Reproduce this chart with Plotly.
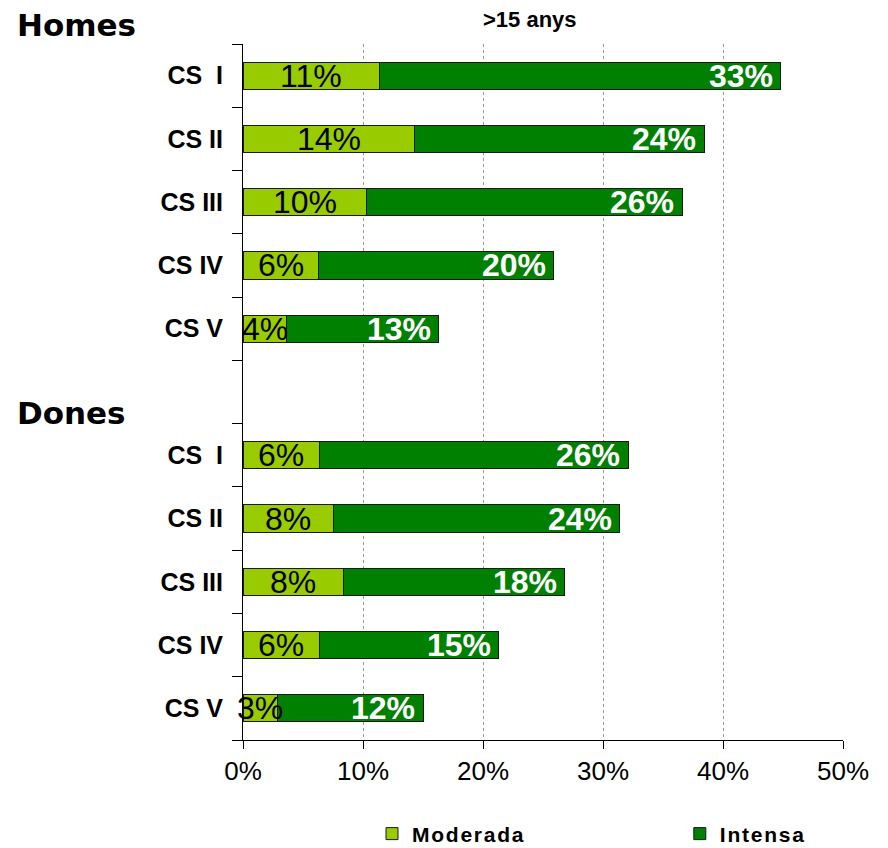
# =========================================
# Activitat física per classe social (>15 anys)
# =========================================

import plotly.graph_objects as go


# =========================================
# Data
# =========================================

homes_cats = ["CS\u00a0\u00a0I", "CS II", "CS III", "CS IV", "CS V"]
dones_cats = [c + "\u200b" for c in homes_cats]
gap_cat = "\u2002"
categories = homes_cats + [gap_cat] + dones_cats

moderada = [11.4, 14.25, 10.3, 6.3, 3.6, 6.4, 7.5, 8.4, 6.4, 2.9]
intensa = [33.4, 24.2, 26.3, 19.6, 12.7, 25.7, 23.9, 18.4, 14.9, 12.1]

moderada_labels = ["11%", "14%", "10%", "6%", "4%", "6%", "8%", "8%", "6%", "3%"]
intensa_labels = ["33%", "24%", "26%", "20%", "13%", "26%", "24%", "18%", "15%", "12%"]

bar_cats = homes_cats + dones_cats

FONT = "Liberation Sans, Arial, sans-serif"


fig = go.Figure()


# =========================================
# Bars
# =========================================

fig.add_trace(
    go.Bar(
        y=bar_cats,
        x=moderada,
        orientation="h",
        name="<b>" + "\u200a".join("Moderada") + "</b>",
        legend="legend",
        marker=dict(color="#99CC00", line=dict(color="#1a1a1a", width=1)),
    )
)

fig.add_trace(
    go.Bar(
        y=bar_cats,
        x=intensa,
        orientation="h",
        name="<b>" + "\u200a".join("Intensa") + "</b>",
        legend="legend2",
        marker=dict(color="#008000", line=dict(color="#1a1a1a", width=1)),
    )
)


# =========================================
# Value labels
# =========================================

for cat, m, i, ml, il in zip(bar_cats, moderada, intensa, moderada_labels, intensa_labels):

    fig.add_annotation(
        x=m / 2, y=cat, xref="x", yref="y",
        text=ml, showarrow=False, xanchor="center", yanchor="middle",
        font=dict(family=FONT, size=32, color="black"),
    )

    fig.add_annotation(
        x=m + i, y=cat, xref="x", yref="y",
        text="<b>" + il + "</b>", showarrow=False, xanchor="right", yanchor="middle",
        xshift=-6,
        font=dict(family=FONT, size=32, color="white"),
    )


# =========================================
# Group headings and title
# =========================================

fig.add_annotation(
    x=-0.38, y=1.0, xref="paper", yref="paper",
    text="<b>Homes</b>", showarrow=False, xanchor="left", yanchor="bottom",
    yshift=-1,
    font=dict(family="Arial Black, DejaVu Sans, sans-serif", size=31, color="black"),
)

fig.add_annotation(
    x=-0.38, y=dones_cats[0], xref="paper", yref="y",
    text="<b>Dones</b>", showarrow=False, xanchor="left", yanchor="middle",
    yshift=42,
    font=dict(family="Arial Black, DejaVu Sans, sans-serif", size=31, color="black"),
)

fig.add_annotation(
    x=0.478, y=1.0, xref="paper", yref="paper",
    text="<b>>15 anys</b>", showarrow=False, xanchor="center", yanchor="bottom",
    yshift=10,
    font=dict(family=FONT, size=22, color="black"),
)


# =========================================
# Layout
# =========================================

legend_font = dict(family=FONT, size=21, color="black")

fig.update_layout(
    width=880,
    height=840,
    margin=dict(l=235, r=45, t=36, b=108, autoexpand=False),
    paper_bgcolor="white",
    plot_bgcolor="white",
    barmode="stack",
    bargap=0.57,
    font=dict(family=FONT, color="black"),
    showlegend=True,
    legend=dict(
        x=0.215, xanchor="left",
        y=-0.135, yanchor="middle",
        font=legend_font,
        itemwidth=30,
    ),
    legend2=dict(
        x=0.728, xanchor="left",
        y=-0.135, yanchor="middle",
        font=legend_font,
        itemwidth=30,
    ),
)

fig.update_xaxes(
    range=[0, 50],
    dtick=10,
    ticksuffix="%",
    showgrid=True,
    gridcolor="#999999",
    griddash="dot",
    gridwidth=1,
    showline=True,
    linecolor="black",
    linewidth=1,
    ticks="outside",
    ticklen=8,
    tickcolor="black",
    tickfont=dict(family=FONT, size=26, color="black"),
    zeroline=False,
    automargin=False,
)

fig.update_yaxes(
    type="category",
    categoryorder="array",
    categoryarray=categories,
    range=[len(categories) - 0.5, -0.5],
    tickmode="array",
    tickvals=categories,
    ticktext=["<b>" + c + "</b>" for c in categories],
    showline=True,
    linecolor="black",
    linewidth=1,
    ticks="outside",
    tickson="boundaries",
    ticklen=10,
    tickcolor="black",
    ticklabelstandoff=14,
    tickfont=dict(family=FONT, size=25, color="black"),
    showgrid=False,
    automargin=False,
)


fig.write_html("out.html")
